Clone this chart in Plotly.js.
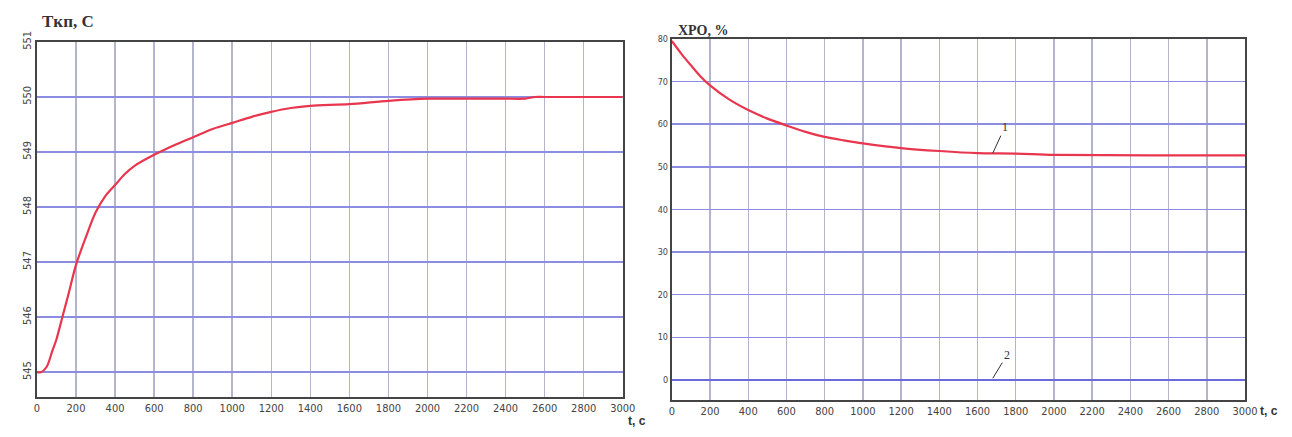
<!DOCTYPE html>
<html><head><meta charset="utf-8">
<script src="https://cdn.plot.ly/plotly-3.0.1.min.js"></script>
<style>html,body{margin:0;padding:0;background:#fff}#c{width:1292px;height:437px}</style>
</head><body><div id="c"></div>
<script>
// Left chart: temperature vs time
const tLeft = [0, 20, 50, 80, 100, 130, 160, 200, 250, 300, 350, 400, 450, 500, 600, 700, 800, 900, 1000, 1100, 1200, 1300, 1400, 1600, 1800, 2000, 2200, 2400, 2500, 2550, 2600, 3000];
const tempLeft = [545, 545, 545.1, 545.4, 545.6, 546.0, 546.4, 546.95, 547.45, 547.9, 548.2, 548.4, 548.6, 548.75, 548.95, 549.12, 549.27, 549.42, 549.53, 549.64, 549.73, 549.8, 549.84, 549.87, 549.93, 549.97, 549.97, 549.97, 549.97, 550, 550, 550];
// Right chart: ХРО vs time
const tRight = [0, 50, 100, 150, 200, 300, 400, 500, 600, 700, 800, 900, 1000, 1200, 1400, 1600, 1800, 2000, 2500, 3000];
const xroCurve1 = [79.5, 76.5, 73.8, 71.2, 69.1, 65.8, 63.3, 61.3, 59.7, 58.2, 57.0, 56.2, 55.5, 54.4, 53.7, 53.2, 53.1, 52.8, 52.7, 52.7];
const tCurve2 = [0, 3000];
const xroCurve2 = [0, 0];
const xTicks = [0, 200, 400, 600, 800, 1000, 1200, 1400, 1600, 1800, 2000, 2200, 2400, 2600, 2800, 3000];
const yTicksLeft = [545, 546, 547, 548, 549, 550, 551];
const yTicksRight = [0, 10, 20, 30, 40, 50, 60, 70, 80];

const tickFont = {family: 'Liberation Sans Narrow, DejaVu Sans Condensed, sans-serif', size: 11, color: '#444'};
const red = '#e8364e';

const traces = [
  {x: tLeft, y: tempLeft, xaxis: 'x', yaxis: 'y', mode: 'lines', line: {color: red, width: 2.2, shape: 'spline', smoothing: 0.8}, showlegend: false},
  {x: tRight, y: xroCurve1, xaxis: 'x2', yaxis: 'y2', mode: 'lines', line: {color: red, width: 2.2, shape: 'spline', smoothing: 0.8}, showlegend: false},
  {x: tCurve2, y: xroCurve2, xaxis: 'x2', yaxis: 'y2', mode: 'lines', line: {color: '#6a6ad8', width: 2}, showlegend: false}
];

const xCommon = {range: [0, 3000], tickvals: xTicks, showgrid: true, gridcolor: '#b4b4cc', gridwidth: 1.5,
  showline: true, linecolor: '#444', linewidth: 2, mirror: true, zeroline: false, ticks: '', tickfont: tickFont, fixedrange: true};

const layout = {
  width: 1292, height: 437,
  margin: {l: 0, r: 0, t: 0, b: 0},
  paper_bgcolor: '#fff', plot_bgcolor: '#fff',
  xaxis: Object.assign({}, xCommon, {domain: [0.0286, 0.482], anchor: 'y'}),
  yaxis: {domain: [0.0915, 0.904], range: [544.55, 551], tickvals: yTicksLeft, tickangle: -90,
    showgrid: true, gridcolor: '#8c8ce0', gridwidth: 1.5, showline: true, linecolor: '#444', linewidth: 2, mirror: true,
    zeroline: false, ticks: '', tickfont: tickFont, anchor: 'x'},
  xaxis2: Object.assign({}, xCommon, {domain: [0.520, 0.9636], anchor: 'y2'}),
  yaxis2: {domain: [0.0847, 0.911], range: [-4.7, 80], tickvals: yTicksRight,
    showgrid: true, gridcolor: '#8c8ce0', gridwidth: 1.5, showline: true, linecolor: '#444', linewidth: 2, mirror: true,
    zeroline: false, ticks: '', tickfont: {family: tickFont.family, size: 9, color: '#444'}, anchor: 'x2'},
  annotations: [
    {xref: 'paper', yref: 'paper', x: 40/1292, y: 1 - 22/437, xanchor: 'left', yanchor: 'middle', showarrow: false,
      text: '<b>Tкп, С</b>', font: {family: 'Liberation Serif, serif', size: 17, color: '#333'}},
    {xref: 'paper', yref: 'paper', x: 676/1292, y: 1 - 30/437, xanchor: 'left', yanchor: 'middle', showarrow: false,
      text: '<b>ХРО, %</b>', font: {family: 'Liberation Serif, serif', size: 14, color: '#333'}},
    {xref: 'paper', yref: 'paper', x: 626/1292, y: 1 - 421/437, xanchor: 'left', yanchor: 'middle', showarrow: false,
      text: '<b>t, с</b>', font: {family: 'Liberation Sans Narrow, sans-serif', size: 12, color: '#333'}},
    {xref: 'paper', yref: 'paper', x: 1258/1292, y: 1 - 411/437, xanchor: 'left', yanchor: 'middle', showarrow: false,
      text: '<b>t, с</b>', font: {family: 'Liberation Sans Narrow, sans-serif', size: 12, color: '#333'}},
    {xref: 'x2', yref: 'y2', x: 1680, y: 53.2, ax: 12, ay: -26, text: '1', showarrow: true, arrowhead: 0, arrowwidth: 1,
      arrowcolor: '#333', font: {family: 'Liberation Serif, serif', size: 12, color: '#333'}},
    {xref: 'x2', yref: 'y2', x: 1680, y: 0.4, ax: 14, ay: -23, text: '2', showarrow: true, arrowhead: 0, arrowwidth: 1,
      arrowcolor: '#333', font: {family: 'Liberation Serif, serif', size: 12, color: '#333'}}
  ]
};

Plotly.newPlot('c', traces, layout, {displayModeBar: false, staticPlot: true});
</script>
</body></html>
